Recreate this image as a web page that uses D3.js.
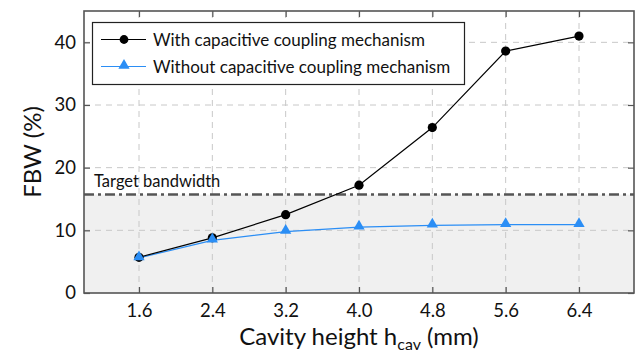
<!DOCTYPE html>
<html>
<head>
<meta charset="utf-8">
<script src="https://cdn.jsdelivr.net/npm/d3@7"></script>
<style>
  html, body { margin: 0; padding: 0; background: #fff; }
  svg { display: block; font-family: Lato, "Open Sans", sans-serif; }
</style>
</head>
<body>
<svg id="chart" width="635" height="354"></svg>
<script>
// Cavity heights (mm) and fractional bandwidth (%)
const heights = [1.6, 2.4, 3.2, 4.0, 4.8, 5.6, 6.4];
const withCoupling = [5.7, 8.8, 12.5, 17.2, 26.4, 38.6, 41.0];
const withoutCoupling = [5.6, 8.4, 9.8, 10.5, 10.8, 10.9, 10.9];
const xTickLabels = ["1.6", "2.4", "3.2", "4.0", "4.8", "5.6", "6.4"];
const yTicks = [0, 10, 20, 30, 40];
const targetBandwidth = 15.7;
const seriesNames = ["With capacitive coupling mechanism", "Without capacitive coupling mechanism"];

const svg = d3.select("#chart");
const margin = { left: 84, right: 1, top: 11, bottom: 61 };
const W = 635, H = 354;
const x = d3.scaleLinear().domain([1.0, 7.0]).range([margin.left, W - margin.right]);
const y = d3.scaleLinear().domain([0, 45]).range([H - margin.bottom, margin.top]);
const [x0, x1] = x.range();
const [y0, y1] = y.range();

// shaded band below the target bandwidth
svg.append("rect")
  .attr("x", x0).attr("y", y(targetBandwidth))
  .attr("width", x1 - x0).attr("height", y0 - y(targetBandwidth))
  .attr("fill", "#f0f0f0");

// dashed grid
const grid = svg.append("g").attr("stroke", "#c8c8c8").attr("stroke-width", 1).attr("stroke-dasharray", "6,5");
grid.selectAll("line.v").data(heights).join("line")
  .attr("x1", d => x(d)).attr("x2", d => x(d)).attr("y1", y0).attr("y2", y1);
grid.selectAll("line.h").data(yTicks.slice(1)).join("line")
  .attr("x1", x0).attr("x2", x1).attr("y1", d => y(d)).attr("y2", d => y(d));

// target bandwidth line
svg.append("line")
  .attr("x1", x0).attr("x2", x1)
  .attr("y1", y(targetBandwidth)).attr("y2", y(targetBandwidth))
  .attr("stroke", "#555").attr("stroke-width", 2.5).attr("stroke-dasharray", "10,4,3,4");
svg.append("text")
  .attr("x", x0 + 10).attr("y", y(targetBandwidth) - 8)
  .attr("font-size", 16.5).attr("fill", "#111").text("Target bandwidth");

// axes with inward ticks
const axisColor = "#555";
const xb = svg.append("g").attr("transform", `translate(0,${y0})`)
  .call(d3.axisBottom(x).tickValues(heights).tickFormat((d, i) => xTickLabels[i]).tickSize(-6).tickPadding(11));
const xt = svg.append("g").attr("transform", `translate(0,${y1})`)
  .call(d3.axisTop(x).tickValues(heights).tickFormat("").tickSize(-6));
const yl = svg.append("g").attr("transform", `translate(${x0},0)`)
  .call(d3.axisLeft(y).tickValues(yTicks).tickSize(-6).tickPadding(8));
const yr = svg.append("g").attr("transform", `translate(${x1},0)`)
  .call(d3.axisRight(y).tickValues(yTicks).tickFormat("").tickSize(-6));
[xb, xt, yl, yr].forEach(g => {
  g.select(".domain").remove();
  g.selectAll(".tick line").attr("stroke", axisColor).attr("stroke-width", 1.2);
  g.selectAll(".tick text").attr("font-size", 18.5).attr("fill", "#111").attr("font-family", "Lato, sans-serif");
});
svg.append("rect")
  .attr("x", x0).attr("y", y1).attr("width", x1 - x0).attr("height", y0 - y1)
  .attr("fill", "none").attr("stroke", axisColor).attr("stroke-width", 1.6);

// series
const line = d3.line().x(d => x(d[0])).y(d => y(d[1]));
const blueColor = "#2b8ef5";
const triangle = d3.symbol().type(d3.symbolTriangle).size(55);

svg.append("path").datum(heights.map((h, i) => [h, withoutCoupling[i]]))
  .attr("d", line).attr("fill", "none").attr("stroke", blueColor).attr("stroke-width", 1.2);
svg.append("path").datum(heights.map((h, i) => [h, withCoupling[i]]))
  .attr("d", line).attr("fill", "none").attr("stroke", "#000").attr("stroke-width", 1.2);

svg.selectAll("circle.m").data(heights).join("circle")
  .attr("cx", d => x(d)).attr("cy", (d, i) => y(withCoupling[i])).attr("r", 4.6).attr("fill", "#000");
svg.selectAll("path.t").data(heights).join("path")
  .attr("transform", (d, i) => `translate(${x(d)},${y(withoutCoupling[i]) - 1})`)
  .attr("d", triangle).attr("fill", blueColor);

// legend
const lg = svg.append("g");
lg.append("rect").attr("x", 92.5).attr("y", 22.5).attr("width", 372).attr("height", 62)
  .attr("fill", "#fff").attr("stroke", "#222").attr("stroke-width", 1.2);
const rows = [{ y: 39.5, color: "#000", mark: "circle" }, { y: 66.5, color: blueColor, mark: "tri" }];
rows.forEach((r, i) => {
  lg.append("line").attr("x1", 101).attr("x2", 146).attr("y1", r.y).attr("y2", r.y)
    .attr("stroke", r.color).attr("stroke-width", 1.2);
  if (r.mark === "circle") {
    lg.append("circle").attr("cx", 124).attr("cy", r.y).attr("r", 4.4).attr("fill", r.color);
  } else {
    lg.append("path").attr("transform", `translate(124,${r.y - 1})`).attr("d", triangle).attr("fill", r.color);
  }
  lg.append("text").attr("x", 153).attr("y", r.y + 6).attr("font-size", 17).attr("fill", "#111").text(seriesNames[i]);
});

// axis titles
const xTitle = svg.append("text").attr("x", (x0 + x1) / 2).attr("y", 345)
  .attr("text-anchor", "middle").attr("font-size", 24).attr("fill", "#111");
xTitle.append("tspan").text("Cavity height h");
xTitle.append("tspan").attr("font-size", 16).attr("dy", 5).text("cav");
xTitle.append("tspan").attr("dy", -5).text(" (mm)");

svg.append("text").attr("transform", `translate(41,${(y0 + y1) / 2}) rotate(-90)`)
  .attr("text-anchor", "middle").attr("font-size", 24).attr("fill", "#111").text("FBW (%)");
</script>
</body>
</html>
